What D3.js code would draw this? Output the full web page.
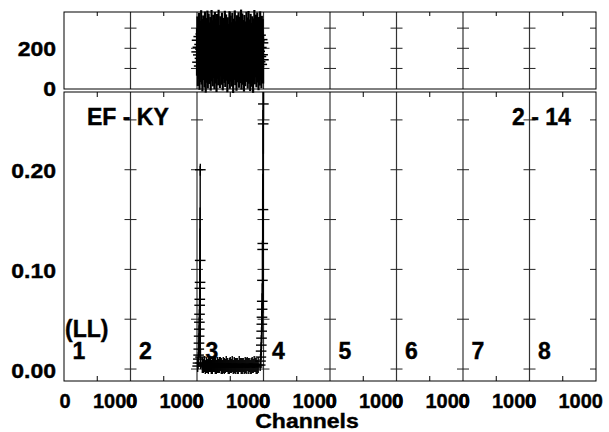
<!DOCTYPE html>
<html><head><meta charset="utf-8">
<script src="https://cdn.jsdelivr.net/npm/d3@7"></script>
<style>
body{margin:0;background:#fff}
svg{display:block}
text{font-family:"Liberation Sans",Arial,Helvetica,sans-serif;font-weight:bold;fill:#000;stroke:#000;stroke-width:0.4px}
</style>
</head><body><svg id="c" width="609" height="432"></svg>
<script>
// ---------- data ----------
const groupNames = ["1","2","3","4","5","6","7","8"];
const groupTickLabels = ["0","1000"];
const xTitle = "Channels";
const topTickValues = [0, 200];
const topSepTicks = [100, 200, 300];
const bottomTickValues = [0.00, 0.10, 0.20];
const bottomSepTicks = [0.00, 0.05, 0.10, 0.15, 0.20, 0.25];
const labelPair = "EF - KY";
const labelRun = "2 - 14";
const labelMode = "(LL)";
const dataGroup = 2; // third group (index 2)

// upper panel (residual-like block) : channels within group 3
const topChannels = d3.range(0, 1000, 6.25);
const topValues = [
 182,240,131,205,167,258,112,219,150,196,271,138,227,104,189,245,160,213,123,264,
 175,98,232,147,201,269,119,186,254,141,210,163,237,108,195,272,154,221,129,248,
 170,206,115,262,143,228,188,101,252,167,214,134,273,159,197,121,241,178,224,137,
 259,192,109,233,164,207,146,268,126,183,250,157,219,100,236,172,203,140,266,117,
 188,244,153,211,128,257,176,96,229,161,199,270,135,216,182,107,246,149,226,168,
 261,122,193,238,145,209,274,113,180,255,137,222,165,103,247,190,130,215,172,263,
 151,235,118,200,267,142,186,225,106,253,163,208,127,241,179,97,230,156,272,139,
 212,174,249,124,196,260,148,218,110,237,185,133,265,159,204,120,243,168,227,143
];
const topError = 118;     // vertical error half-length
const topChErr = 85;      // horizontal error half-length (channels)

// lower panel : channels within group 3
const bottomChannels = [
 10,15,20,24,27,30,32,34,36,38,40,42,44,46,48,50,52,55,
 80,95,110,125,140,155,170,185,200,215,230,245,260,275,290,305,320,335,350,365,380,395,410,425,440,455,470,485,500,515,530,545,560,575,590,605,620,635,650,665,680,695,710,725,740,755,770,785,800,815,830,845,860,875,890,905,920,
 950,955,960,964,967,970,973,975,977,979,981,984,987,989,992,995,998,1000
];
const bottomValues = [
 0.003,0.006,0.010,0.014,0.020,0.026,0.033,0.040,0.047,0.055,0.064,0.070,0.081,0.087,0.109,0.200,0.012,0.006,
 0.004,0.003,0.005,0.002,0.004,0.003,0.003,0.005,0.004,0.002,0.003,0.004,0.005,0.003,0.002,0.004,0.003,0.004,0.005,0.003,
 0.002,0.004,0.003,0.003,0.005,0.004,0.002,0.003,0.004,0.003,0.005,0.002,0.004,0.003,0.004,0.003,0.002,0.005,0.004,0.003,
 0.003,0.004,0.002,0.004,0.003,0.005,0.003,0.004,0.002,0.003,0.004,0.003,0.005,0.004,0.003,0.002,0.004,
 0.004,0.008,0.012,0.018,0.024,0.031,0.038,0.045,0.052,0.060,0.068,0.089,0.120,0.126,0.160,0.246,0.266,0.300
];
const bottomErrors = [
 0.006,0.006,0.007,0.008,0.009,0.010,0.011,0.012,0.013,0.015,0.020,0.030,0.060,0.075,0.095,0.006,0.008,0.006,
 0.008,0.007,0.008,0.007,0.008,0.007,0.008,0.008,0.007,0.007,0.008,0.007,0.008,0.008,0.007,0.008,0.007,0.008,0.007,0.008,
 0.007,0.008,0.008,0.007,0.008,0.007,0.007,0.008,0.008,0.007,0.008,0.007,0.008,0.008,0.007,0.008,0.007,0.008,0.007,0.008,
 0.008,0.007,0.007,0.008,0.008,0.007,0.008,0.007,0.007,0.008,0.008,0.007,0.008,0.007,0.008,0.007,0.008,
 0.006,0.007,0.008,0.009,0.010,0.011,0.012,0.013,0.014,0.016,0.018,0.040,0.060,0.070,0.100,0.120,0.050,0.050
];
const bottomChErr = 80;

// ---------- layout ----------
const svg = d3.select("#c");
const L = 64, R = 596;
const topT = 12, topB = 89, botT = 92, botB = 381;
const nG = groupNames.length;
const x = d3.scaleLinear().domain([0, nG * 1000]).range([L, R]);
const yTop = d3.scaleLinear().domain([-2, 380]).range([topB, topT]);
const yBot = d3.scaleLinear().domain([-0.012, 0.278]).range([botB, botT]);
const groupStarts = d3.range(nG + 1).map(g => g * 1000);

function txt(px, py, s, size, anchor, sx) {
  svg.append("text")
    .attr("transform", `translate(${px},${py}) scale(${sx || 1},1)`)
    .attr("font-size", size).attr("text-anchor", anchor || "start").text(s);
}
function line(x1, y1, x2, y2, col, w) {
  svg.append("line").attr("x1", x1).attr("y1", y1).attr("x2", x2).attr("y2", y2)
    .attr("stroke", col || "#000").attr("stroke-width", w || 1);
}

// separators + their ticks
groupStarts.forEach((gs, i) => {
  const px = x(gs);
  if (i > 0 && i < nG) {
    line(px, topT, px, topB, "#333", 1.2);
    line(px, botT, px, botB, "#333", 1.2);
    topSepTicks.forEach(v => line(px - 6, yTop(v), px + 6, yTop(v), "#222"));
    bottomSepTicks.forEach(v => line(px - 6, yBot(v), px + 6, yBot(v), "#222"));
  }
  if (i === nG) {
    topSepTicks.forEach(v => line(px - 6, yTop(v), px, yTop(v), "#222"));
    bottomSepTicks.forEach(v => line(px - 6, yBot(v), px, yBot(v), "#222"));
  }
});
// mid-group ticks
d3.range(nG).forEach(g => {
  const px = x(g * 1000 + 500);
  line(px, topT, px, topT + 4);
  line(px, botT, px, botT + 5);
  line(px, botB, px, botB - 5);
});

// frames
svg.append("rect").attr("x", L).attr("y", topT).attr("width", R - L).attr("height", topB - topT)
  .attr("fill", "none").attr("stroke", "#000");
svg.append("rect").attr("x", L).attr("y", botT).attr("width", R - L).attr("height", botB - botT)
  .attr("fill", "none").attr("stroke", "#000");

// y labels
topTickValues.forEach(v => txt(56, yTop(v) + 7.5, String(v), 20, "end", 1.15));
bottomTickValues.forEach(v => txt(56, yBot(v) + 8.5, v.toFixed(2), 20, "end", 1.15));

// x labels
d3.range(nG).forEach(g => {
  txt(x(g * 1000) + 1, 408, groupTickLabels[0], 20, "middle");
  txt(x((g + 1) * 1000) + 7, 408, groupTickLabels[1], 20, "end");
});
txt(307, 428, xTitle, 20, "middle", 1.15);

// annotations
txt(87, 125, labelPair, 23, "start");
txt(512, 125, labelRun, 23, "start");
txt(65, 337, labelMode, 23, "start");
groupNames.forEach((n, g) => txt(x(g * 1000) + 8.5, 359, n, 23, "start"));

// ---------- data ----------
const off = dataGroup * 1000;
const gTop = svg.append("g").attr("stroke", "#000");
topChannels.forEach((c, i) => {
  const v = topValues[i];
  gTop.append("line").attr("stroke-width", 2.2).attr("x1", x(off + c)).attr("x2", x(off + c))
    .attr("y1", yTop(v - topError)).attr("y2", yTop(v + topError));
  gTop.append("line").attr("stroke-width", 1.5).attr("x1", x(off + c - topChErr)).attr("x2", x(off + c + topChErr))
    .attr("y1", yTop(v)).attr("y2", yTop(v));
});

svg.append("clipPath").attr("id", "cb").append("rect")
  .attr("x", L).attr("y", botT).attr("width", R - L).attr("height", botB - botT);
const gBot = svg.append("g").attr("clip-path", "url(#cb)").attr("stroke", "#000").attr("stroke-width", 1.4);
bottomChannels.forEach((c, i) => {
  const v = bottomValues[i], e = bottomErrors[i];
  gBot.append("line").attr("x1", x(off + c)).attr("x2", x(off + c))
    .attr("y1", yBot(v - e)).attr("y2", yBot(v + e));
  gBot.append("line").attr("x1", x(off + c - bottomChErr)).attr("x2", x(off + c + bottomChErr))
    .attr("y1", yBot(v)).attr("y2", yBot(v));
});
</script>
</body></html>
